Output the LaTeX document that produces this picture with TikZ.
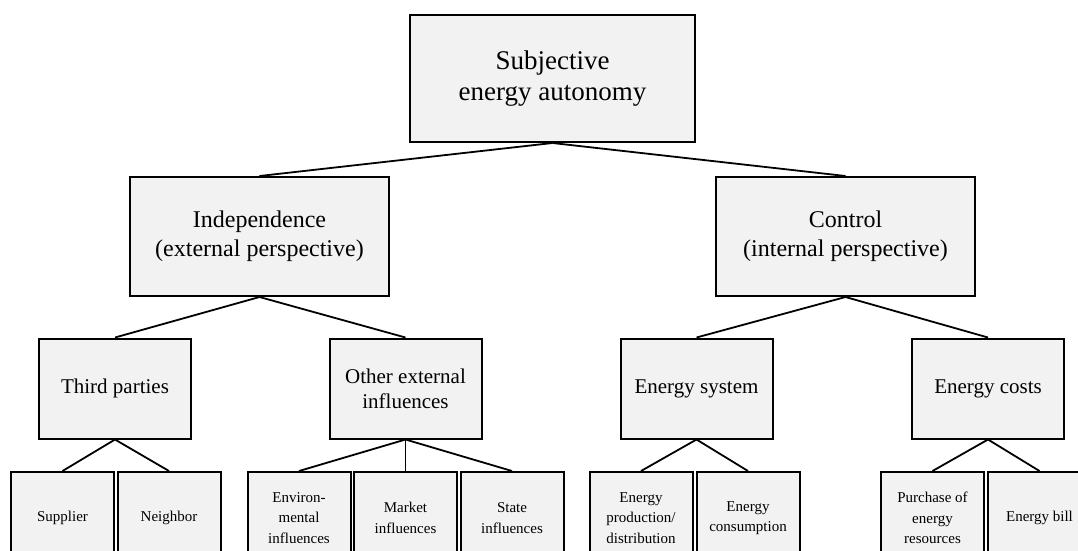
\documentclass[tikz,border=0pt]{standalone}
\usepackage{fontspec}
\setmainfont{Liberation Serif}
\definecolor{boxgray}{HTML}{F2F2F2}
\tikzset{
  box/.style={draw, line width=2pt, fill=boxgray, align=center, inner sep=0pt},
  lvlone/.style={box, minimum width=285pt, minimum height=127pt, font=\fontsize{27}{31}\selectfont},
  lvltwo/.style={box, minimum width=259pt, minimum height=119pt, font=\fontsize{24}{29}\selectfont},
  lvlthree/.style={box, minimum width=152pt, minimum height=100pt, font=\fontsize{21}{25}\selectfont},
  lvlfour/.style={box, minimum width=103pt, minimum height=92pt, font=\fontsize{15}{20.5}\selectfont},
  branch/.style={line width=1.8pt}
}
\begin{document}
\begin{tikzpicture}[x=1pt,y=-1pt]
\useasboundingbox (0,0) rectangle (1078,550);
\clip (0,0) rectangle (1078,550);
\node[lvlone] (autonomy) at (552.5,78.5) {Subjective\\energy autonomy};

\node[lvltwo] (indep) at (259.5,236.5) {Independence\\(external perspective)};
\node[lvltwo] (control) at (845.5,236.5) {Control\\(internal perspective)};

\node[lvlthree] (third) at (115,388.5) {Third parties};
\node[lvlthree] (other) at (405.5,388.5) {Other external\\influences};
\node[lvlthree] (esystem) at (696.5,388.5) {Energy system};
\node[lvlthree] (ecosts) at (988,388.5) {Energy costs};

\node[lvlfour] (supplier) at (62.5,518) {Supplier};
\node[lvlfour] (neighbor) at (169,518) {Neighbor};
\node[lvlfour] (environ) at (299,518) {Environ-\\mental\\influences};
\node[lvlfour] (market) at (405.5,518) {Market\\influences};
\node[lvlfour] (state) at (512,518) {State\\influences};
\node[lvlfour] (eprod) at (641,518) {Energy\\production/\\distribution};
\node[lvlfour] (econs) at (748,518) {Energy\\consumption};
\node[lvlfour] (purchase) at (932.5,518) {Purchase of\\energy\\resources};
\node[lvlfour] (bill) at (1039.5,518) {Energy bill};

% tree branches
\draw[branch] (autonomy.south) -- (indep.north);
\draw[branch] (autonomy.south) -- (control.north);
\draw[branch] (indep.south) -- (third.north);
\draw[branch] (indep.south) -- (other.north);
\draw[branch] (control.south) -- (esystem.north);
\draw[branch] (control.south) -- (ecosts.north);
\draw[branch] (third.south) -- (supplier.north);
\draw[branch] (third.south) -- (neighbor.north);
\draw[branch] (other.south) -- (environ.north);
\draw[branch] (other.south) -- (market.north);
\draw[branch] (other.south) -- (state.north);
\draw[branch] (esystem.south) -- (eprod.north);
\draw[branch] (esystem.south) -- (econs.north);
\draw[branch] (ecosts.south) -- (purchase.north);
\draw[branch] (ecosts.south) -- (bill.north);
\end{tikzpicture}
\end{document}
